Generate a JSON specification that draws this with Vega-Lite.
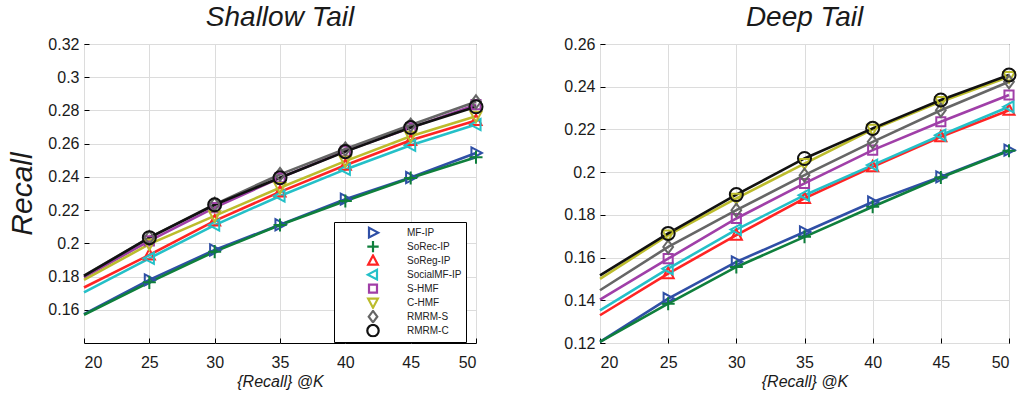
{
  "$schema": "https://vega.github.io/schema/vega-lite/v6.json",
  "autosize": {"type": "pad"},
  "padding": {"left": 6, "top": 3, "right": 5, "bottom": 5},
  "bounds": "flush",
  "spacing": 124,
  "background": "white",
  "datasets": {
    "shallow": [
      {"K": 20, "method": "MF-IP", "recall": 0.1574}, {"K": 25, "method": "MF-IP", "recall": 0.178}, {"K": 30, "method": "MF-IP", "recall": 0.196}, {"K": 35, "method": "MF-IP", "recall": 0.2112}, {"K": 40, "method": "MF-IP", "recall": 0.2266}, {"K": 45, "method": "MF-IP", "recall": 0.2396}, {"K": 50, "method": "MF-IP", "recall": 0.2544},
      {"K": 20, "method": "SoRec-IP", "recall": 0.157}, {"K": 25, "method": "SoRec-IP", "recall": 0.1765}, {"K": 30, "method": "SoRec-IP", "recall": 0.195}, {"K": 35, "method": "SoRec-IP", "recall": 0.211}, {"K": 40, "method": "SoRec-IP", "recall": 0.2255}, {"K": 45, "method": "SoRec-IP", "recall": 0.2393}, {"K": 50, "method": "SoRec-IP", "recall": 0.2518},
      {"K": 20, "method": "SoReg-IP", "recall": 0.1734}, {"K": 25, "method": "SoReg-IP", "recall": 0.193}, {"K": 30, "method": "SoReg-IP", "recall": 0.2135}, {"K": 35, "method": "SoReg-IP", "recall": 0.231}, {"K": 40, "method": "SoReg-IP", "recall": 0.247}, {"K": 45, "method": "SoReg-IP", "recall": 0.262}, {"K": 50, "method": "SoReg-IP", "recall": 0.274},
      {"K": 20, "method": "SocialMF-IP", "recall": 0.1705}, {"K": 25, "method": "SocialMF-IP", "recall": 0.191}, {"K": 30, "method": "SocialMF-IP", "recall": 0.211}, {"K": 35, "method": "SocialMF-IP", "recall": 0.2285}, {"K": 40, "method": "SocialMF-IP", "recall": 0.2445}, {"K": 45, "method": "SocialMF-IP", "recall": 0.259}, {"K": 50, "method": "SocialMF-IP", "recall": 0.2715},
      {"K": 20, "method": "S-HMF", "recall": 0.1795}, {"K": 25, "method": "S-HMF", "recall": 0.2015}, {"K": 30, "method": "S-HMF", "recall": 0.2215}, {"K": 35, "method": "S-HMF", "recall": 0.2395}, {"K": 40, "method": "S-HMF", "recall": 0.2555}, {"K": 45, "method": "S-HMF", "recall": 0.2695}, {"K": 50, "method": "S-HMF", "recall": 0.2835},
      {"K": 20, "method": "C-HMF", "recall": 0.178}, {"K": 25, "method": "C-HMF", "recall": 0.1995}, {"K": 30, "method": "C-HMF", "recall": 0.2165}, {"K": 35, "method": "C-HMF", "recall": 0.2335}, {"K": 40, "method": "C-HMF", "recall": 0.2495}, {"K": 45, "method": "C-HMF", "recall": 0.2645}, {"K": 50, "method": "C-HMF", "recall": 0.2765},
      {"K": 20, "method": "RMRM-S", "recall": 0.1805}, {"K": 25, "method": "RMRM-S", "recall": 0.2035}, {"K": 30, "method": "RMRM-S", "recall": 0.2235}, {"K": 35, "method": "RMRM-S", "recall": 0.2415}, {"K": 40, "method": "RMRM-S", "recall": 0.2568}, {"K": 45, "method": "RMRM-S", "recall": 0.2712}, {"K": 50, "method": "RMRM-S", "recall": 0.2852},
      {"K": 20, "method": "RMRM-C", "recall": 0.1804}, {"K": 25, "method": "RMRM-C", "recall": 0.2034}, {"K": 30, "method": "RMRM-C", "recall": 0.2232}, {"K": 35, "method": "RMRM-C", "recall": 0.2395}, {"K": 40, "method": "RMRM-C", "recall": 0.2552}, {"K": 45, "method": "RMRM-C", "recall": 0.2697}, {"K": 50, "method": "RMRM-C", "recall": 0.2822}
    ],
    "deep": [
      {"K": 20, "method": "MF-IP", "recall": 0.1205}, {"K": 25, "method": "MF-IP", "recall": 0.1408}, {"K": 30, "method": "MF-IP", "recall": 0.158}, {"K": 35, "method": "MF-IP", "recall": 0.172}, {"K": 40, "method": "MF-IP", "recall": 0.186}, {"K": 45, "method": "MF-IP", "recall": 0.1978}, {"K": 50, "method": "MF-IP", "recall": 0.2103},
      {"K": 20, "method": "SoRec-IP", "recall": 0.1205}, {"K": 25, "method": "SoRec-IP", "recall": 0.1384}, {"K": 30, "method": "SoRec-IP", "recall": 0.1556}, {"K": 35, "method": "SoRec-IP", "recall": 0.1697}, {"K": 40, "method": "SoRec-IP", "recall": 0.1838}, {"K": 45, "method": "SoRec-IP", "recall": 0.1975}, {"K": 50, "method": "SoRec-IP", "recall": 0.21},
      {"K": 20, "method": "SoReg-IP", "recall": 0.133}, {"K": 25, "method": "SoReg-IP", "recall": 0.1525}, {"K": 30, "method": "SoReg-IP", "recall": 0.1705}, {"K": 35, "method": "SoReg-IP", "recall": 0.1877}, {"K": 40, "method": "SoReg-IP", "recall": 0.2025}, {"K": 45, "method": "SoReg-IP", "recall": 0.2166}, {"K": 50, "method": "SoReg-IP", "recall": 0.229},
      {"K": 20, "method": "SocialMF-IP", "recall": 0.1353}, {"K": 25, "method": "SocialMF-IP", "recall": 0.1548}, {"K": 30, "method": "SocialMF-IP", "recall": 0.1731}, {"K": 35, "method": "SocialMF-IP", "recall": 0.1892}, {"K": 40, "method": "SocialMF-IP", "recall": 0.2033}, {"K": 45, "method": "SocialMF-IP", "recall": 0.2173}, {"K": 50, "method": "SocialMF-IP", "recall": 0.2306},
      {"K": 20, "method": "S-HMF", "recall": 0.1403}, {"K": 25, "method": "S-HMF", "recall": 0.1595}, {"K": 30, "method": "S-HMF", "recall": 0.1783}, {"K": 35, "method": "S-HMF", "recall": 0.1947}, {"K": 40, "method": "S-HMF", "recall": 0.2103}, {"K": 45, "method": "S-HMF", "recall": 0.2236}, {"K": 50, "method": "S-HMF", "recall": 0.2361},
      {"K": 20, "method": "C-HMF", "recall": 0.15}, {"K": 25, "method": "C-HMF", "recall": 0.1705}, {"K": 30, "method": "C-HMF", "recall": 0.1877}, {"K": 35, "method": "C-HMF", "recall": 0.204}, {"K": 40, "method": "C-HMF", "recall": 0.22}, {"K": 45, "method": "C-HMF", "recall": 0.233}, {"K": 50, "method": "C-HMF", "recall": 0.2447},
      {"K": 20, "method": "RMRM-S", "recall": 0.1447}, {"K": 25, "method": "RMRM-S", "recall": 0.165}, {"K": 30, "method": "RMRM-S", "recall": 0.1822}, {"K": 35, "method": "RMRM-S", "recall": 0.1986}, {"K": 40, "method": "RMRM-S", "recall": 0.2142}, {"K": 45, "method": "RMRM-S", "recall": 0.229}, {"K": 50, "method": "RMRM-S", "recall": 0.2423},
      {"K": 20, "method": "RMRM-C", "recall": 0.1517}, {"K": 25, "method": "RMRM-C", "recall": 0.1713}, {"K": 30, "method": "RMRM-C", "recall": 0.1895}, {"K": 35, "method": "RMRM-C", "recall": 0.2064}, {"K": 40, "method": "RMRM-C", "recall": 0.2205}, {"K": 45, "method": "RMRM-C", "recall": 0.2338}, {"K": 50, "method": "RMRM-C", "recall": 0.2455}
    ]
  },
  "hconcat": [
    {
      "width": 392,
      "height": 299,
      "title": "Shallow Tail",
      "data": {"name": "shallow"},
      "encoding": {
        "x": {"field": "K", "type": "quantitative", "scale": {"domain": [20, 50], "nice": false},
          "axis": {"values": [20, 25, 30, 35, 40, 45, 50], "title": "{Recall} @K", "titleFontSize": 16, "titleFontStyle": "italic", "titleFontWeight": "normal", "titleY": 38, "titleBaseline": "middle", "labelPadding": 16}},
        "y": {"field": "recall", "type": "quantitative", "scale": {"domain": [0.14, 0.32], "zero": false, "nice": false},
          "axis": {"values": [0.16, 0.18, 0.2, 0.22, 0.24, 0.26, 0.28, 0.3, 0.32], "format": ".2~f", "title": "Recall", "titleFontSize": 30, "titleFontStyle": "italic", "titleFontWeight": "normal", "titleX": -62, "titleY": 149.5, "titleBaseline": "middle", "labelPadding": 10}},
        "color": {"field": "method", "type": "nominal", "title": null,
          "scale": {"domain": ["MF-IP", "SoRec-IP", "SoReg-IP", "SocialMF-IP", "S-HMF", "C-HMF", "RMRM-S", "RMRM-C"],
                    "range": ["#2f4fa6", "#0f7f3c", "#ff2424", "#24c0c8", "#a03fa8", "#bcbc2c", "#666666", "#111111"]}}
      },
      "layer": [
        {"mark": {"type": "line", "strokeWidth": 2.6}},
        {"transform": [{"filter": "datum.K > 20"}],
         "mark": {"type": "point", "filled": false, "strokeWidth": 2, "size": 170, "opacity": 1},
         "encoding": {
           "shape": {"field": "method", "type": "nominal", "title": null,
             "scale": {"domain": ["MF-IP", "SoRec-IP", "SoReg-IP", "SocialMF-IP", "S-HMF", "C-HMF", "RMRM-S", "RMRM-C"],
                       "range": ["M0.9,0L-0.7,-0.85L-0.7,0.85Z", "M-1,0L1,0M0,-1L0,1", "M0,-0.9L0.85,0.7L-0.85,0.7Z", "M-0.9,0L0.7,-0.85L0.7,0.85Z", "M-0.7,-0.7L0.7,-0.7L0.7,0.7L-0.7,0.7Z", "M0,0.9L0.85,-0.7L-0.85,-0.7Z", "M0,-1L0.75,0L0,1L-0.75,0Z", "circle"]}}
         }}
      ]
    },
    {
      "width": 409,
      "height": 299,
      "title": "Deep Tail",
      "data": {"name": "deep"},
      "encoding": {
        "x": {"field": "K", "type": "quantitative", "scale": {"domain": [20, 50], "nice": false},
          "axis": {"values": [20, 25, 30, 35, 40, 45, 50], "title": "{Recall} @K", "titleFontSize": 16, "titleFontStyle": "italic", "titleFontWeight": "normal", "titleY": 38, "titleBaseline": "middle", "labelPadding": 16}},
        "y": {"field": "recall", "type": "quantitative", "scale": {"domain": [0.12, 0.26], "zero": false, "nice": false},
          "axis": {"values": [0.12, 0.14, 0.16, 0.18, 0.2, 0.22, 0.24, 0.26], "format": ".2~f", "title": null, "labelPadding": 10}},
        "color": {"field": "method", "type": "nominal", "title": null,
          "scale": {"domain": ["MF-IP", "SoRec-IP", "SoReg-IP", "SocialMF-IP", "S-HMF", "C-HMF", "RMRM-S", "RMRM-C"],
                    "range": ["#2f4fa6", "#0f7f3c", "#ff2424", "#24c0c8", "#a03fa8", "#bcbc2c", "#666666", "#111111"]}}
      },
      "layer": [
        {"mark": {"type": "line", "strokeWidth": 2.6}},
        {"transform": [{"filter": "datum.K > 20"}],
         "mark": {"type": "point", "filled": false, "strokeWidth": 2, "size": 170, "opacity": 1},
         "encoding": {
           "shape": {"field": "method", "type": "nominal", "title": null,
             "scale": {"domain": ["MF-IP", "SoRec-IP", "SoReg-IP", "SocialMF-IP", "S-HMF", "C-HMF", "RMRM-S", "RMRM-C"],
                       "range": ["M0.9,0L-0.7,-0.85L-0.7,0.85Z", "M-1,0L1,0M0,-1L0,1", "M0,-0.9L0.85,0.7L-0.85,0.7Z", "M-0.9,0L0.7,-0.85L0.7,0.85Z", "M-0.7,-0.7L0.7,-0.7L0.7,0.7L-0.7,0.7Z", "M0,0.9L0.85,-0.7L-0.85,-0.7Z", "M0,-1L0.75,0L0,1L-0.75,0Z", "circle"]}}
         }}
      ]
    }
  ],
  "config": {
    "font": "Liberation Sans",
    "view": {"stroke": "#000000", "strokeWidth": 1},
    "axis": {"domain": false, "grid": true, "gridColor": "#dcdcdc", "gridWidth": 1, "ticks": true, "tickColor": "#000000", "tickSize": -5, "labelFont": "Liberation Sans", "labelFontSize": 16, "labelColor": "#1a1a1a", "titleFont": "Liberation Sans", "titleColor": "#1a1a1a"},
    "title": {"font": "Liberation Sans", "fontSize": 28, "fontStyle": "italic", "fontWeight": "normal", "color": "#1a1a1a", "offset": 4, "baseline": "alphabetic"},
    "legend": {"orient": "none", "legendX": 250, "legendY": 178, "padding": 4, "strokeColor": "#000000", "fillColor": "#ffffff", "symbolSize": 130, "symbolStrokeWidth": 2.2, "symbolOffset": 28, "labelOffset": 27, "labelFont": "Liberation Sans", "labelFontSize": 10, "labelColor": "#222222", "rowPadding": 0, "clipHeight": 13.3}
  }
}
